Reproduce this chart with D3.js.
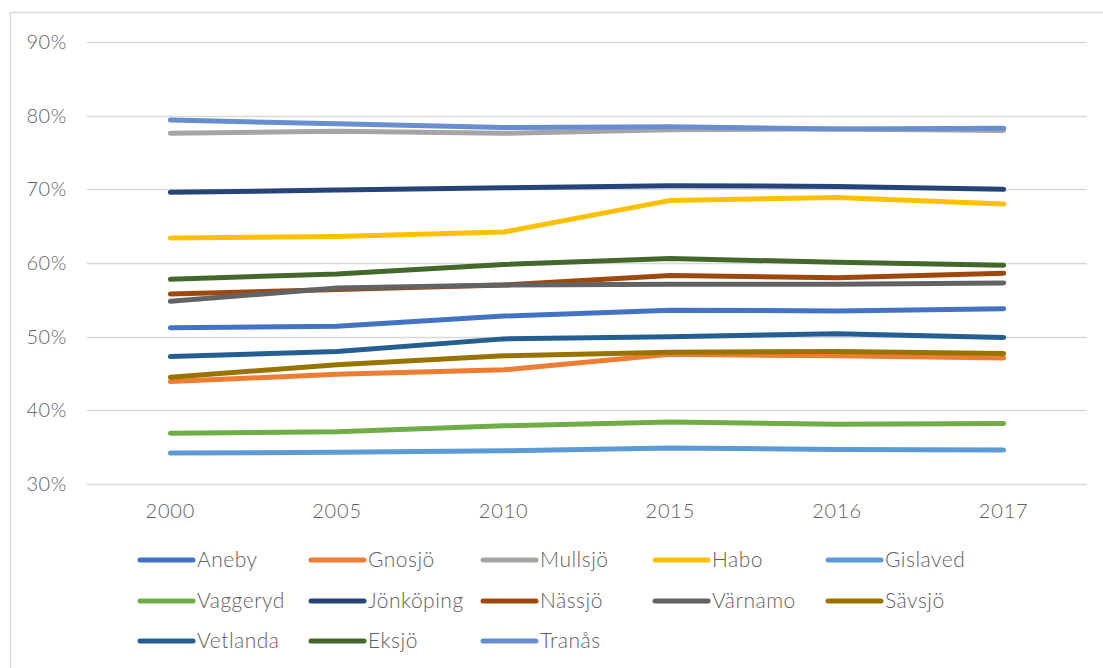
<!DOCTYPE html>
<html>
<head>
<meta charset="utf-8">
<script src="https://cdn.jsdelivr.net/npm/d3@7"></script>
<style>
  html, body { margin: 0; padding: 0; background: #fff; }
  svg text { font-family: "Lato", "Open Sans", sans-serif; font-weight: 300; fill: #5f5f5f; }
</style>
</head>
<body>
<div id="chart"></div>
<script>
// Years on the category axis
const years = ['2000', '2005', '2010', '2015', '2016', '2017'];

// Share per municipality (%)
const aneby     = [51.2, 51.4, 52.8, 53.6, 53.5, 53.8];
const gnosjo    = [43.9, 44.9, 45.5, 47.6, 47.4, 47.1];
const mullsjo   = [77.6, 77.9, 77.6, 78.1, 78.2, 78.0];
const habo      = [63.4, 63.6, 64.2, 68.5, 68.9, 68.0];
const gislaved  = [34.2, 34.3, 34.5, 34.9, 34.7, 34.6];
const vaggeryd  = [36.9, 37.1, 37.9, 38.4, 38.1, 38.2];
const jonkoping = [69.6, 69.9, 70.2, 70.5, 70.4, 70.0];
const nassjo    = [55.8, 56.4, 57.0, 58.3, 58.0, 58.6];
const varnamo   = [54.8, 56.6, 57.0, 57.1, 57.1, 57.3];
const savsjo    = [44.5, 46.2, 47.4, 47.9, 48.0, 47.7];
const vetlanda  = [47.3, 48.0, 49.7, 50.0, 50.4, 49.9];
const eksjo     = [57.8, 58.5, 59.8, 60.6, 60.1, 59.7];
const tranas    = [79.4, 78.9, 78.4, 78.5, 78.2, 78.3];

const seriesNames = ['Aneby', 'Gnosjö', 'Mullsjö', 'Habo', 'Gislaved', 'Vaggeryd', 'Jönköping',
                     'Nässjö', 'Värnamo', 'Sävsjö', 'Vetlanda', 'Eksjö', 'Tranås'];
const seriesValues = [aneby, gnosjo, mullsjo, habo, gislaved, vaggeryd, jonkoping,
                      nassjo, varnamo, savsjo, vetlanda, eksjo, tranas];
const seriesColors = ['#4472C4', '#ED7D31', '#A5A5A5', '#FFC000', '#5B9BD5', '#70AD47', '#264478',
                      '#9E480E', '#636363', '#997300', '#255E91', '#43682B', '#698ED0'];

const yTicks = [30, 40, 50, 60, 70, 80, 90];

const width = 1103, height = 668;
const plot = { left: 87, right: 1087, top: 42, bottom: 484 };

const svg = d3.select('#chart').append('svg')
    .attr('width', width)
    .attr('height', height);

// chart frame (left + top edges visible)
svg.append('rect')
    .attr('x', 10.5).attr('y', 12.5)
    .attr('width', 1110).attr('height', 700)
    .attr('fill', 'none')
    .attr('stroke', '#d9d9d9')
    .attr('stroke-width', 1.5);

const x = d3.scaleBand()
    .domain(years)
    .range([plot.left, plot.right]);

const y = d3.scaleLinear()
    .domain([30, 90])
    .range([plot.bottom, plot.top]);

// gridlines
svg.append('g')
    .selectAll('line')
    .data(yTicks)
    .enter().append('line')
    .attr('x1', plot.left)
    .attr('x2', plot.right)
    .attr('y1', d => Math.round(y(d)) + 0.5)
    .attr('y2', d => Math.round(y(d)) + 0.5)
    .attr('stroke', '#d9d9d9')
    .attr('stroke-width', 1.5);

// y labels
svg.append('g')
    .selectAll('text')
    .data(yTicks)
    .enter().append('text')
    .attr('x', 67)
    .attr('y', d => y(d))
    .attr('dy', '0.35em')
    .attr('text-anchor', 'end')
    .style('font-size', '20px')
    .style('letter-spacing', '0.6px')
    .text(d => d + '%');

// x labels
svg.append('g')
    .selectAll('text')
    .data(years)
    .enter().append('text')
    .attr('x', d => x(d) + x.bandwidth() / 2)
    .attr('y', 511)
    .attr('dy', '0.35em')
    .attr('text-anchor', 'middle')
    .style('font-size', '20px')
    .style('letter-spacing', '0.8px')
    .text(d => d);

const line = d3.line()
    .x((d, i) => x(years[i]) + x.bandwidth() / 2)
    .y(d => y(d));

// lines
svg.append('g')
    .selectAll('path')
    .data(seriesValues)
    .enter().append('path')
    .attr('d', d => line(d))
    .attr('fill', 'none')
    .attr('stroke', (d, i) => seriesColors[i])
    .attr('stroke-width', 5)
    .attr('stroke-linecap', 'round')
    .attr('stroke-linejoin', 'round');

// legend
const legendX = [140, 311, 483, 655, 828];
const legendY = [560, 601, 641];

const legend = svg.append('g')
    .selectAll('g')
    .data(seriesNames)
    .enter().append('g')
    .attr('transform', (d, i) => `translate(${legendX[i % 5]},${legendY[Math.floor(i / 5)]})`);

legend.append('line')
    .attr('x1', 0).attr('x2', 53)
    .attr('y1', 0).attr('y2', 0)
    .attr('stroke', (d, i) => seriesColors[i])
    .attr('stroke-width', 5)
    .attr('stroke-linecap', 'round');

legend.append('text')
    .attr('x', 57)
    .attr('y', 0)
    .attr('dy', '0.35em')
    .style('font-size', '21px')
    .style('letter-spacing', '0.5px')
    .text(d => d);
</script>
</body>
</html>
